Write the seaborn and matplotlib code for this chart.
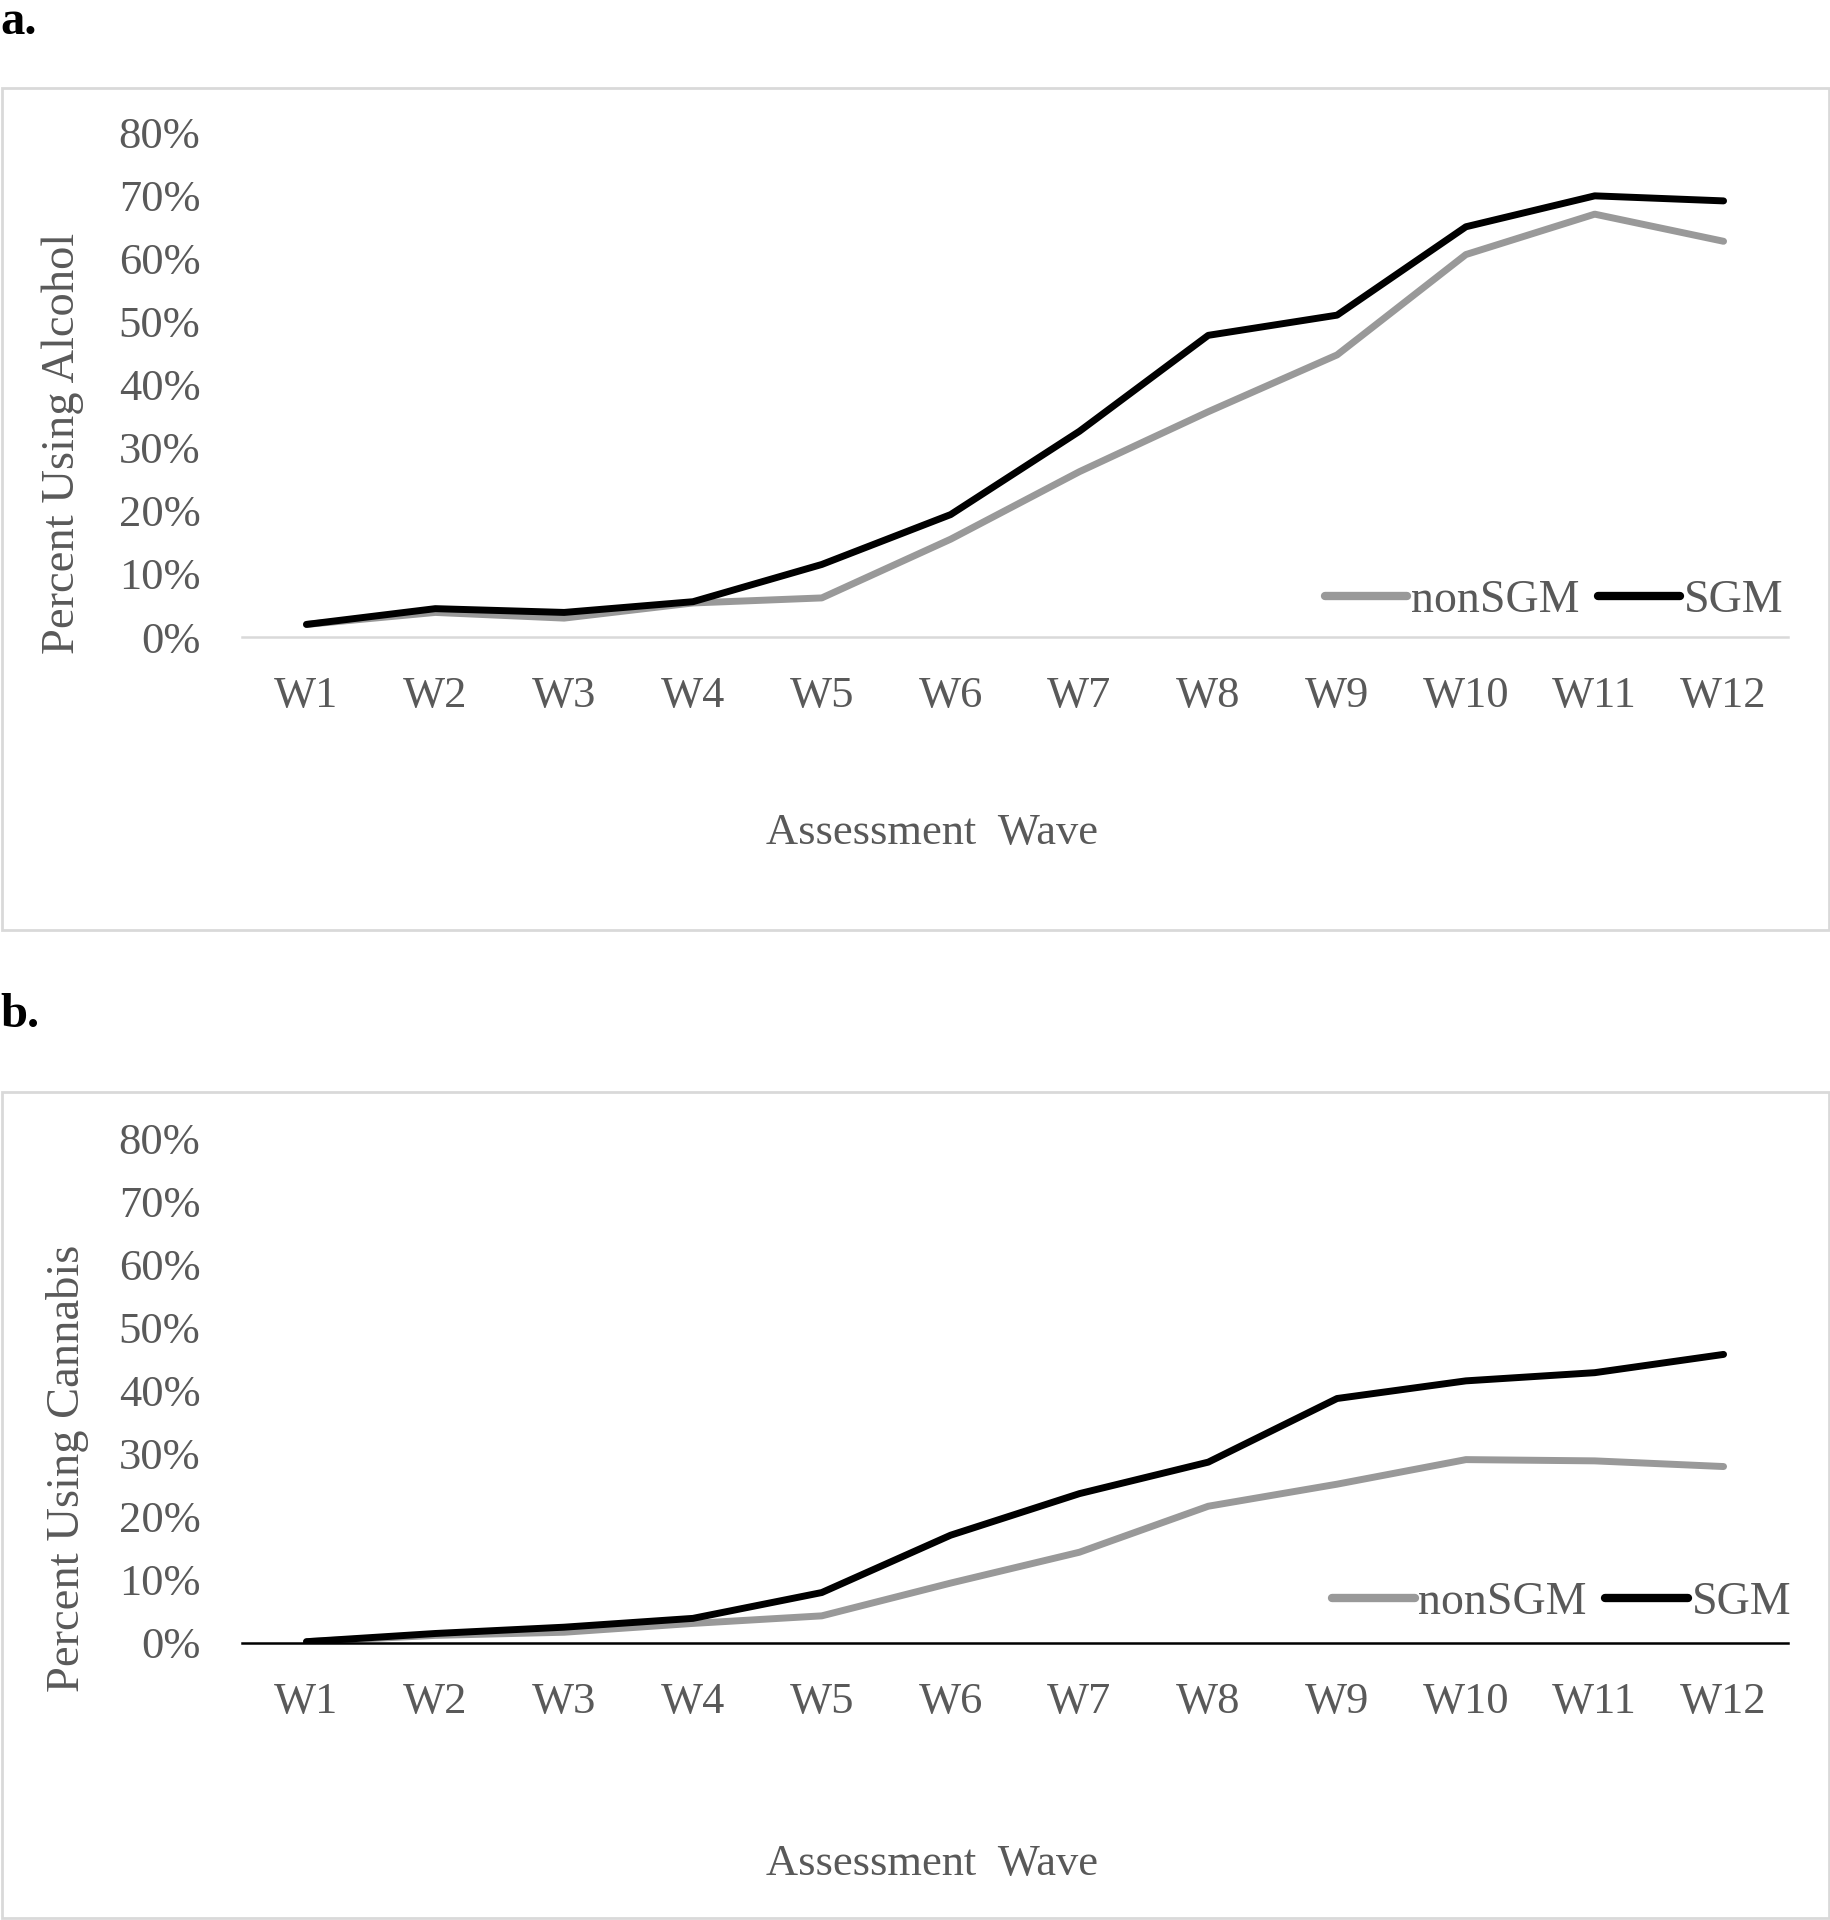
import matplotlib
matplotlib.use("Agg")
import matplotlib.pyplot as plt
import seaborn as sns
import pandas as pd
from matplotlib.patches import Rectangle
from matplotlib.lines import Line2D

# Data (proportions)
waves = ["W1", "W2", "W3", "W4", "W5", "W6", "W7", "W8", "W9", "W10", "W11", "W12"]
alcohol_nonsgm = [0.020, 0.039, 0.030, 0.054, 0.062, 0.155, 0.262, 0.357, 0.447, 0.606, 0.670, 0.627]
alcohol_sgm = [0.020, 0.045, 0.039, 0.056, 0.115, 0.194, 0.326, 0.478, 0.510, 0.650, 0.699, 0.691]
cannabis_nonsgm = [0.002, 0.012, 0.017, 0.031, 0.043, 0.095, 0.144, 0.217, 0.252, 0.291, 0.289, 0.280]
cannabis_sgm = [0.002, 0.015, 0.025, 0.039, 0.080, 0.171, 0.237, 0.287, 0.388, 0.416, 0.429, 0.458]
groups = ["nonSGM", "SGM"]
yticks = [0, 0.1, 0.2, 0.3, 0.4, 0.5, 0.6, 0.7, 0.8]
ytick_labels = ["0%", "10%", "20%", "30%", "40%", "50%", "60%", "70%", "80%"]

colors = {"nonSGM": "#999999", "SGM": "#000000"}
text_col = "#595959"

sns.set_theme(style="white")
plt.rcParams["font.family"] = ["Liberation Serif", "DejaVu Serif"]


def long_df(nonsgm, sgm):
    return pd.DataFrame({
        "wave": waves * 2,
        "x": list(range(len(waves))) * 2,
        "value": nonsgm + sgm,
        "group": [groups[0]] * len(waves) + [groups[1]] * len(waves),
    })


fig = plt.figure(figsize=(18.31, 19.2), dpi=100)

# panel frames
for y0, y1 in [(0.5156, 0.9542), (0.0012, 0.43125)]:
    fig.patches.append(Rectangle((0.0012, y0), 0.9976, y1 - y0, transform=fig.transFigure,
                                 fill=False, edgecolor="#d9d9d9", linewidth=2))

fig.text(0.0, 1.0, "a.", fontsize=35, fontweight="bold", color="black", va="top", ha="left")
fig.text(0.0, 0.483, "b.", fontsize=35, fontweight="bold", color="black", va="top", ha="left")

panels = [
    dict(rect=[0.1322, 0.6682, 0.8443, 0.2630], df=long_df(alcohol_nonsgm, alcohol_sgm),
         ylabel="Percent Using Alcohol", ylab_xy=(0.034, 0.769), xlab_y=0.566,
         spine="#d9d9d9", leg_y=0.072, leg_x=0.997),
    dict(rect=[0.1322, 0.1443, 0.8443, 0.2625], df=long_df(cannabis_nonsgm, cannabis_sgm),
         ylabel="Percent Using Cannabis", ylab_xy=(0.037, 0.235), xlab_y=0.029,
         spine="#000000", leg_y=0.080, leg_x=1.002),
]

for p in panels:
    ax = fig.add_axes(p["rect"])
    sns.lineplot(data=p["df"], x="x", y="value", hue="group", palette=colors,
                 linewidth=5, ax=ax, legend=False, solid_capstyle="round")
    ax.set_xlim(-0.5, len(waves) - 0.5)
    ax.set_ylim(0, 0.8)
    ax.set_xticks(range(len(waves)))
    ax.set_xticklabels(waves)
    ax.set_yticks(yticks)
    ax.set_yticklabels(ytick_labels)
    ax.tick_params(axis="both", length=0, labelsize=32, labelcolor=text_col)
    ax.tick_params(axis="y", pad=30)
    ax.tick_params(axis="x", pad=28)
    ax.set_xlabel("")
    ax.set_ylabel("")
    for s in ["top", "left", "right"]:
        ax.spines[s].set_visible(False)
    ax.spines["bottom"].set_color(p["spine"])
    ax.spines["bottom"].set_linewidth(1.8)
    ax.set_facecolor("none")

    handles = [Line2D([], [], color=colors[g], linewidth=6, solid_capstyle="round") for g in groups]
    ax.legend(handles, groups, loc="center right", bbox_to_anchor=(p["leg_x"], p["leg_y"]), ncol=2,
              frameon=False, fontsize=33, labelcolor=text_col, handlelength=1.8,
              handletextpad=0.08, columnspacing=0.4, borderpad=0, borderaxespad=0)

    fig.text(p["ylab_xy"][0], p["ylab_xy"][1], p["ylabel"], rotation=90, fontsize=33.5,
             color=text_col, ha="center", va="center")
    fig.text(0.509, p["xlab_y"], "Assessment  Wave", fontsize=32, color=text_col,
             ha="center", va="center")

fig.savefig("out.png", dpi=100, facecolor="white")
